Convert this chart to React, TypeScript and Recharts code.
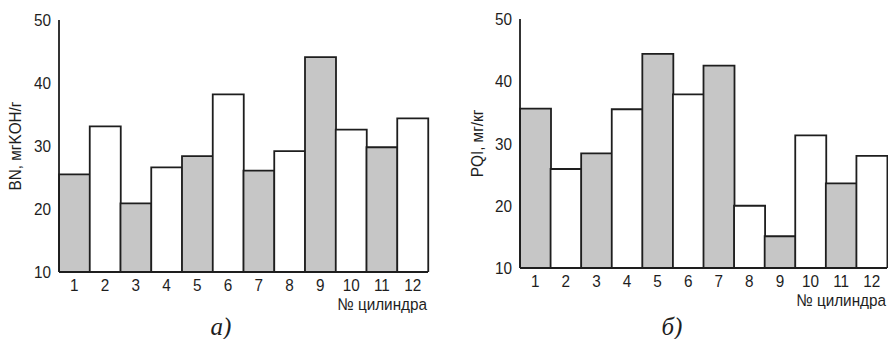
import { BarChart, Bar, XAxis, YAxis, Cell, Label } from "recharts";

const cylinders = ["1", "2", "3", "4", "5", "6", "7", "8", "9", "10", "11", "12"];
const bnValues = [25.5, 33.1, 20.9, 26.6, 28.4, 38.2, 26.1, 29.2, 44.1, 32.6, 29.8, 34.4];
const pqiValues = [35.6, 25.9, 28.4, 35.5, 44.4, 37.9, 42.5, 20.0, 15.1, 31.3, 23.6, 28.0];
const yTicks = [10, 20, 30, 40, 50];

const FONT = "'Liberation Sans', Arial, sans-serif";
const INK = "#1e1e1e";
const GRAY = "#c6c6c6";
const SQUEEZE = 0.9; // the original uses a slightly narrow sans

// narrow text: Arial-like font squeezed horizontally
function Narrow({ x, y, anchor, dy, rotate, children }: any) {
  const t = `translate(${x} ${y})${rotate ? " rotate(-90)" : ""} scale(${SQUEEZE} 1)`;
  return (
    <text x={0} y={0} dy={dy} transform={t} textAnchor={anchor} fontFamily={FONT}
      fontSize={17} fill={INK}>{children}</text>
  );
}

const xTick = (p: any) => <Narrow x={p.x} y={p.y} anchor="middle" dy="0.71em">{p.payload.value}</Narrow>;
const yTick = (p: any) => <Narrow x={p.x} y={p.y} anchor="end" dy="0.355em">{p.payload.value}</Narrow>;

function Panel({ values, yLabel, caption, captionX, margin, width, yWidth, labelX }: any) {
  const data = cylinders.map((c, i) => ({ c, v: values[i] }));
  return (
    <BarChart width={width} height={339} data={data} margin={margin}
      barCategoryGap={0} barGap={0}>
      <XAxis dataKey="c" tick={xTick} tickLine={false} tickSize={0} tickMargin={7}
        axisLine={{ stroke: INK, strokeWidth: 1.8 }} height={30} interval={0}>
        <Label content={({ viewBox }: any) => (
          <Narrow x={viewBox.x + viewBox.width - 1} y={viewBox.y + 38} anchor="end">№ цилиндра</Narrow>
        )} />
        <Label content={() => (
          <text x={captionX} y={335} textAnchor="middle"
            fontFamily="'Liberation Serif', 'Times New Roman', serif" fontStyle="italic"
            fontSize={25} fill={INK}>{caption}</text>
        )} />
      </XAxis>
      <XAxis xAxisId="top" orientation="top" dataKey="c" tick={false} tickLine={false}
        axisLine={{ stroke: INK, strokeWidth: 1.8 }} height={0} />
      <YAxis domain={[10, 50]} ticks={yTicks} tick={yTick} tickLine={false} tickSize={0}
        tickMargin={8} axisLine={{ stroke: INK, strokeWidth: 1.8 }} width={yWidth}
        allowDataOverflow>
        <Label content={({ viewBox }: any) => (
          <Narrow x={viewBox.x + labelX} y={viewBox.y + viewBox.height / 2} anchor="middle" rotate>
            {yLabel}
          </Narrow>
        )} />
      </YAxis>
      <YAxis yAxisId="right" orientation="right" domain={[10, 50]} tick={false} tickLine={false}
        axisLine={{ stroke: INK, strokeWidth: 1.8 }} width={0} />
      <Bar dataKey="v" stroke={INK} strokeWidth={1.8} isAnimationActive={false}>
        {data.map((_, i) => (
          <Cell key={i} fill={i % 2 === 0 ? GRAY : "#ffffff"} />
        ))}
      </Bar>
    </BarChart>
  );
}

export default function App() {
  return (
    <div style={{ position: "absolute", left: 0, top: 0, width: 888, height: 339, background: "#fff" }}>
      <div style={{ position: "absolute", left: 0, top: 0 }}>
        <Panel values={bnValues} yLabel="BN, мгKOH/г" caption="а)" captionX={221} width={444}
          yWidth={59} labelX={21} margin={{ top: 20, right: 16, bottom: 37, left: 0 }} />
      </div>
      <div style={{ position: "absolute", left: 444, top: 0 }}>
        <Panel values={pqiValues} yLabel="PQI, мг/кг" caption="б)" captionX={228} width={444}
          yWidth={76} labelX={39} margin={{ top: 19, right: 1, bottom: 41, left: 0 }} />
      </div>
    </div>
  );
}
